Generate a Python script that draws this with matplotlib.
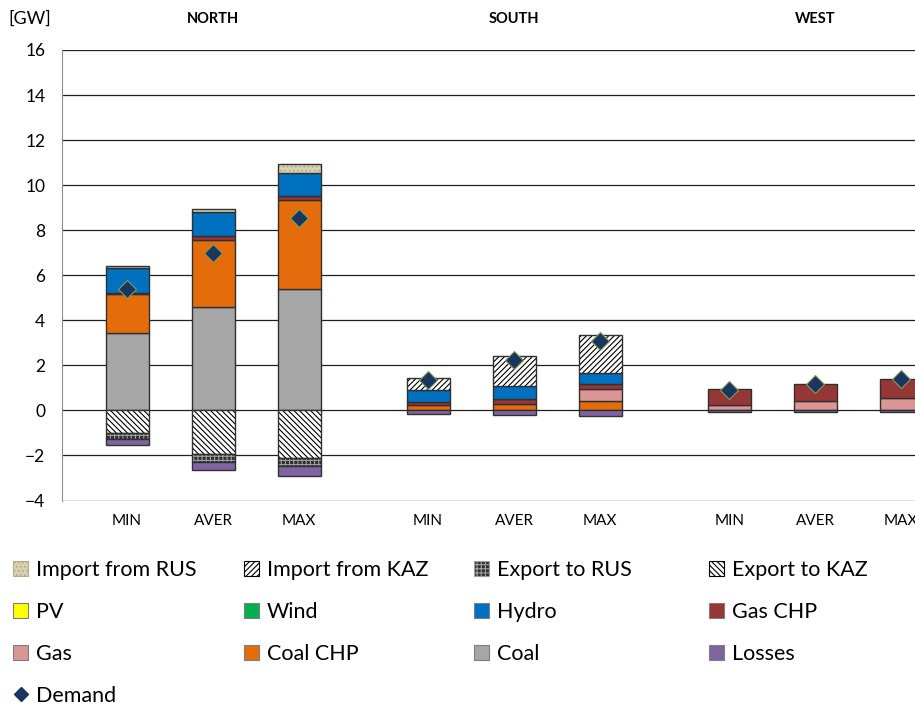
import numpy as np
import matplotlib
matplotlib.use('Agg')
import matplotlib.pyplot as plt
from matplotlib.patches import Patch
from matplotlib.lines import Line2D
from matplotlib.transforms import blended_transform_factory

plt.rcParams['font.family'] = ['Lato', 'DejaVu Sans']

regions = ['NORTH', 'SOUTH', 'WEST']
cases = ['MIN', 'AVER', 'MAX']

# values per bar: NORTH MIN/AVER/MAX, SOUTH MIN/AVER/MAX, WEST MIN/AVER/MAX  [GW]
coal       = [3.45, 4.59, 5.38, 0.00, 0.00, 0.00, 0.00, 0.00, 0.00]
coal_chp   = [1.70, 2.99, 3.95, 0.22, 0.30, 0.40, 0.00, 0.00, 0.00]
gas        = [0.00, 0.00, 0.00, 0.00, 0.00, 0.56, 0.25, 0.40, 0.56]
gas_chp    = [0.08, 0.15, 0.20, 0.15, 0.19, 0.20, 0.68, 0.76, 0.83]
hydro      = [1.11, 1.06, 1.02, 0.55, 0.59, 0.50, 0.00, 0.00, 0.00]
wind       = [0.00, 0.00, 0.00, 0.00, 0.00, 0.00, 0.00, 0.00, 0.00]
pv         = [0.00, 0.00, 0.00, 0.00, 0.00, 0.00, 0.00, 0.00, 0.00]
import_kaz = [0.00, 0.00, 0.00, 0.53, 1.33, 1.67, 0.00, 0.00, 0.00]
import_rus = [0.06, 0.17, 0.37, 0.00, 0.00, 0.00, 0.00, 0.00, 0.00]
export_kaz = [-1.00, -1.93, -2.12, 0.00, 0.00, 0.00, 0.00, 0.00, 0.00]
export_rus = [-0.26, -0.34, -0.37, 0.00, 0.00, 0.00, 0.00, 0.00, 0.00]
losses     = [-0.27, -0.37, -0.44, -0.15, -0.20, -0.25, -0.06, -0.06, -0.06]
demand     = [5.41, 6.99, 8.52, 1.36, 2.22, 3.08, 0.92, 1.16, 1.41]

# style per series: face, hatch, hatch colour
styles = {
    'Import from RUS': ('#d8d2b2', '....', '#b5ad8a'),
    'Import from KAZ': ('white', '//////', 'black'),
    'Export to RUS': ('#303030', '++++', '#a0a0a0'),
    'Export to KAZ': ('white', '\\\\\\\\\\\\', 'black'),
    'PV': ('#ffff00', None, None),
    'Wind': ('#00b050', None, None),
    'Hydro': ('#0070c0', None, None),
    'Gas CHP': ('#953735', None, None),
    'Gas': ('#d99694', None, None),
    'Coal CHP': ('#e46c0a', None, None),
    'Coal': ('#a6a6a6', None, None),
    'Losses': ('#8064a2', None, None),
}

positive = [('Coal', coal), ('Coal CHP', coal_chp), ('Gas', gas), ('Gas CHP', gas_chp),
            ('Hydro', hydro), ('Wind', wind), ('PV', pv),
            ('Import from KAZ', import_kaz), ('Import from RUS', import_rus)]
negative = [('Export to KAZ', export_kaz), ('Export to RUS', export_rus), ('Losses', losses)]

x = np.array([0, 1, 2, 3.5, 4.5, 5.5, 7, 8, 9])
width = 0.5

fig = plt.figure(figsize=(9.15, 7.08), dpi=100)
ax = fig.add_axes([62 / 915, 1 - 500.5 / 708, 1 - 62 / 915, 450.5 / 708])


def draw(series, bottom):
    for name, vals in series:
        vals = np.array(vals)
        face, hatch, hcol = styles[name]
        mask = vals != 0
        if not mask.any():
            bottom = bottom + vals
            continue
        if hatch:
            ax.bar(x[mask], vals[mask], width, bottom=bottom[mask], color=face,
                   hatch=hatch, edgecolor=hcol, linewidth=0, zorder=3)
            ax.bar(x[mask], vals[mask], width, bottom=bottom[mask], fill=False,
                   edgecolor='#303030', linewidth=1, zorder=3)
        else:
            ax.bar(x[mask], vals[mask], width, bottom=bottom[mask], color=face,
                   edgecolor='#303030', linewidth=1, zorder=3)
        bottom = bottom + vals


plt.rcParams['hatch.linewidth'] = 0.8
draw(positive, np.zeros(len(x)))
draw(negative, np.zeros(len(x)))

ax.plot(x, demand, linestyle='none', marker='D', markersize=9.5,
        markerfacecolor='#17375e', markeredgecolor='#8a9a5b', markeredgewidth=0.8, zorder=5)

ax.set_ylim(-4, 16)
ax.set_yticks(np.arange(-4, 17, 2))
ax.set_xlim(-0.756, 9.16)
ax.set_xticks(x, cases * 3)
ax.yaxis.grid(True, color='#202020', linewidth=0.9, zorder=0)
ax.set_axisbelow(True)
for s in ['top', 'right', 'bottom']:
    ax.spines[s].set_visible(False)
ax.spines['left'].set_color('#8c8c8c')
ax.tick_params(axis='both', length=0)
ax.tick_params(axis='y', pad=12, labelsize=12.5)
ax.tick_params(axis='x', pad=10, labelsize=11)

trans = blended_transform_factory(ax.transData, fig.transFigure)
for i, r in enumerate(regions):
    ax.text(x[i * 3 + 1], 1 - 19 / 708, r, transform=trans, ha='center', va='center',
            fontsize=10.5, fontweight='bold')
fig.text(8 / 915, 1 - 19 / 708, '[GW]', ha='left', va='center', fontsize=13)

# legend laid out as four columns, read row by row in the reference
columns = [['Import from RUS', 'PV', 'Gas', 'Demand'],
           ['Import from KAZ', 'Wind', 'Coal CHP'],
           ['Export to RUS', 'Hydro', 'Coal'],
           ['Export to KAZ', 'Gas CHP', 'Losses']]
col_left = [13, 244, 474, 709]

for col, left in zip(columns, col_left):
    handles = []
    for name in col:
        if name == 'Demand':
            handles.append(Line2D([], [], linestyle='none', marker='D', markersize=7,
                                  markerfacecolor='#17375e', markeredgecolor='#17375e'))
        else:
            face, hatch, hcol = styles[name]
            handles.append(Patch(facecolor=face, hatch=hatch,
                                 edgecolor=hcol if hatch else '#7f7f7f', linewidth=0.8))
    leg = fig.legend(handles, col, loc='upper left',
                     bbox_to_anchor=(left / 915, 1 - 560 / 708), frameon=False,
                     fontsize=15.5, handlelength=0.7, handleheight=0.7,
                     handletextpad=0.35, labelspacing=1.02, borderaxespad=0, borderpad=0)

fig.savefig('out.png', dpi=100)
